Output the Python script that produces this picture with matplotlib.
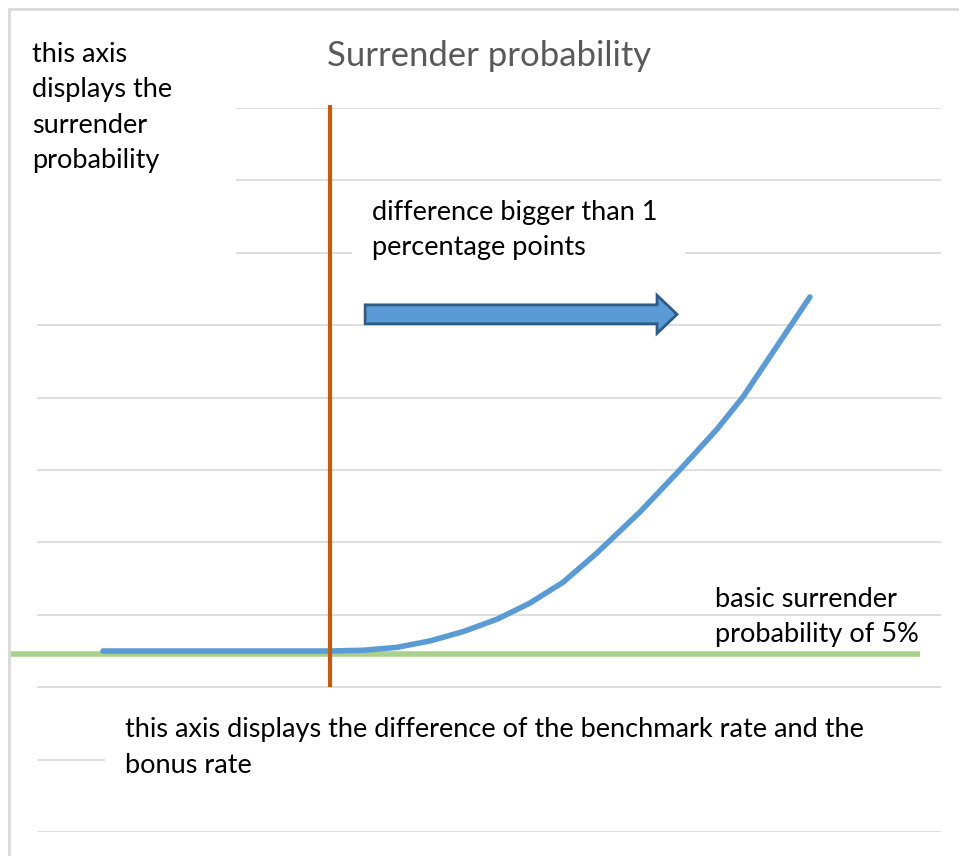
import matplotlib
matplotlib.use("Agg")
import matplotlib.pyplot as plt
from matplotlib.patches import Rectangle, FancyArrow
from matplotlib.lines import Line2D

# values (axis units: 0..10 both ways, axes are hidden)
curve_x = [0.73, 2.0, 3.24, 3.61, 3.98, 4.35, 4.72, 5.09, 5.45, 5.82, 6.19, 6.67,
           7.11, 7.52, 7.81, 8.18, 8.55]
curve_y = [2.50, 2.50, 2.50, 2.51, 2.55, 2.64, 2.77, 2.94, 3.16, 3.45, 3.85, 4.42,
           5.00, 5.56, 6.01, 6.70, 7.39]
base_x = [-0.32, 9.77]
base_y = [2.46, 2.46]
threshold_x = 3.24
threshold_y = [2.0, 10.04]
arrow_x = [3.63, 7.08]
arrow_y = 7.15
grid_vals = list(range(0, 11))

title = "Surrender probability"
note_y = ["this axis", "displays the", "surrender", "probability"]
note_diff = ["difference bigger than 1", "percentage points"]
note_base = ["basic surrender", "probability of 5%"]
note_x = ["this axis displays the difference of the benchmark rate and the", "bonus rate"]

W, H = 959, 856
FONT = "Lato"

fig = plt.figure(figsize=(W / 100, H / 100), dpi=100)
fig.patch.set_facecolor("white")


def fx(px):
    return px / W


def fy(py):
    return 1 - py / H


ax = fig.add_axes([fx(37), fy(832), fx(941) - fx(37), fy(108) - fy(832)])
ax.set_xlim(0, 10)
ax.set_ylim(0, 10)
ax.set_axis_off()

for v in grid_vals:
    ax.axhline(v, color="#d9d9d9", lw=1.2, zorder=0.5)

# white text boxes hiding the gridlines
for (x0, y0, x1, y1) in [(12, 12, 236, 300), (352, 190, 685, 275), (105, 700, 948, 810)]:
    ax.add_patch(Rectangle((fx(x0), fy(y1)), fx(x1) - fx(x0), fy(y0) - fy(y1),
                           transform=fig.transFigure, facecolor="white",
                           edgecolor="none", zorder=1, clip_on=False))

ax.plot(base_x, base_y, color="#a9d18e", lw=4, zorder=2, clip_on=False,
        solid_capstyle="butt")
ax.plot(curve_x, curve_y, color="#5b9bd5", lw=4, zorder=3, clip_on=False,
        solid_capstyle="round", solid_joinstyle="round")
ax.plot([threshold_x, threshold_x], threshold_y, color="#c55a11", lw=3, zorder=4,
        clip_on=False, solid_capstyle="butt")

ax.add_patch(FancyArrow(arrow_x[0], arrow_y, arrow_x[1] - arrow_x[0], 0,
                        width=0.262, head_width=0.525, head_length=0.221,
                        length_includes_head=True, facecolor="#5b9bd5",
                        edgecolor="#2e5b87", lw=2, zorder=5, clip_on=False))

# figure border (left and top visible)
fig.add_artist(Line2D([fx(8.5), fx(8.5)], [fy(9), 0], color="#d9d9d9", lw=2))
fig.add_artist(Line2D([fx(8.5), 1], [fy(9), fy(9)], color="#d9d9d9", lw=2))

# fit font sizes to measured text widths
renderer = fig.canvas.get_renderer()


def fit(s, target):
    t = fig.text(0, 0, s, fontsize=20, family=FONT)
    w = t.get_window_extent(renderer).width
    t.remove()
    return 20 * target / w


body_fs = fit(note_x[0], 741)
title_fs = fit(title, 324)

fig.text(fx(489), fy(66), title, fontsize=title_fs, family=FONT, color="#595959",
         ha="center", va="baseline")


def lines(x, baselines, texts):
    for b, s in zip(baselines, texts):
        fig.text(fx(x), fy(b), s, fontsize=body_fs, family=FONT, color="black",
                 ha="left", va="baseline", zorder=6)


lines(32, [62, 97, 133, 168], note_y)
lines(372, [220, 255], note_diff)
lines(715, [607, 642], note_base)
lines(125, [737, 773], note_x)

fig.savefig("out.png", dpi=100)
